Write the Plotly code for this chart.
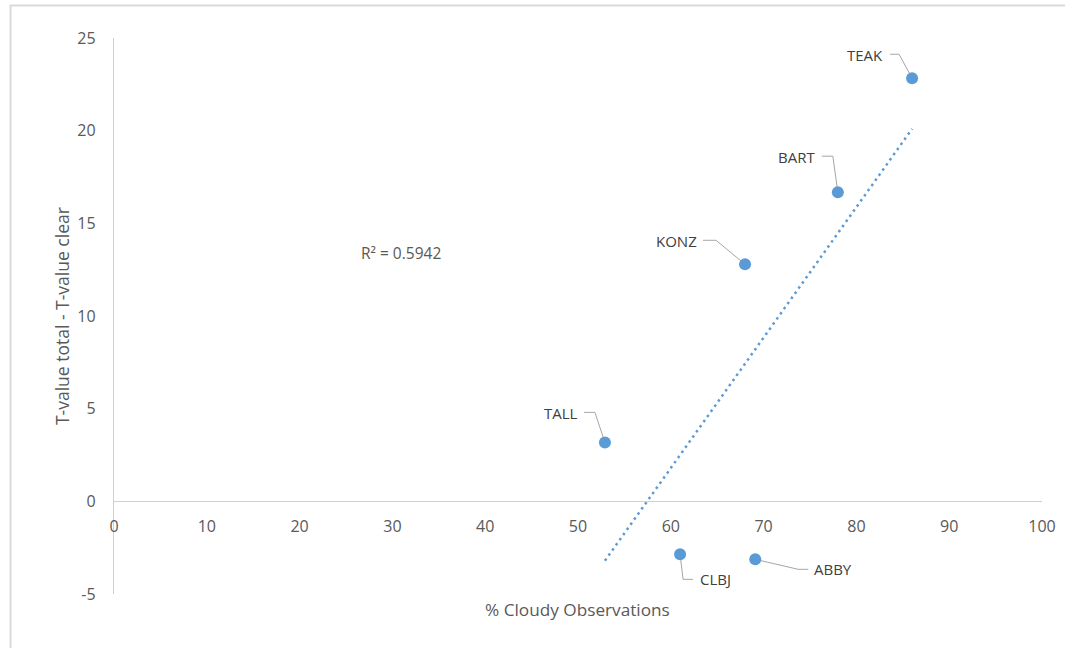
import numpy as np
import plotly.graph_objects as go

# Site data: percentage of cloudy observations vs. difference in T-values
sites = ["TALL", "CLBJ", "ABBY", "KONZ", "BART", "TEAK"]
cloudy_pct = [52.9, 61.0, 69.1, 68.0, 78.0, 86.0]
t_value_diff = [3.18, -2.86, -3.13, 12.79, 16.68, 22.83]

x_ticks = list(range(0, 101, 10))
y_ticks = list(range(-5, 26, 5))
r2_label = "R² = 0.5942"

# Label placement for each site (pixel offsets from the marker, y up):
# elbow of the leader line, end of the leader line, text anchor point, text side
label_layout = {
    "TALL": dict(elbow=(-10, 30), end=(-21, 30), text=(-25, 29), side="right"),
    "CLBJ": dict(elbow=(3, -25), end=(13, -25), text=(18, -25), side="left"),
    "ABBY": dict(elbow=(43, -10), end=(53, -10), text=(57, -10), side="left"),
    "KONZ": dict(elbow=(-29, 24), end=(-42, 24), text=(-46, 23), side="right"),
    "BART": dict(elbow=(-5, 36), end=(-16, 36), text=(-21, 35), side="right"),
    "TEAK": dict(elbow=(-13, 24), end=(-22, 24), text=(-27, 23), side="right"),
}

BLUE = "#5B9BD5"
TEXT = "#595959"
LABEL_TEXT = "#404040"
AXIS = "#D0D0D0"
FONT = "Open Sans"

# Linear trendline across the observed x range
slope, intercept = np.polyfit(cloudy_pct, t_value_diff, 1)
trend_x = [min(cloudy_pct), max(cloudy_pct)]
trend_y = [slope * v + intercept for v in trend_x]

fig = go.Figure()

fig.add_trace(go.Scatter(
    x=trend_x, y=trend_y, mode="lines",
    line=dict(color=BLUE, width=2.5, dash="2.5px,3.8px"),
    hoverinfo="skip", showlegend=False,
))

fig.add_trace(go.Scatter(
    x=cloudy_pct, y=t_value_diff, mode="markers",
    marker=dict(color=BLUE, size=12, line=dict(width=0)),
    text=sites, showlegend=False,
))

shapes = []
annotations = []
for name, xv, yv in zip(sites, cloudy_pct, t_value_diff):
    lay = label_layout[name]
    ex, ey = lay["elbow"]
    lx, ly = lay["end"]
    shapes.append(dict(
        type="path", xref="x", yref="y",
        xsizemode="pixel", ysizemode="pixel",
        xanchor=xv, yanchor=yv,
        path=f"M 0 0 L {ex} {ey} L {lx} {ly}",
        line=dict(color="#A6A6A6", width=1),
        layer="below",
    ))
    tx, ty = lay["text"]
    annotations.append(dict(
        x=xv, y=yv, xref="x", yref="y", text=name, showarrow=False,
        xanchor=lay["side"], yanchor="middle", xshift=tx, yshift=ty,
        font=dict(family=FONT, size=15, color=LABEL_TEXT),
    ))

# Chart frame
shapes.append(dict(
    type="rect", xref="paper", yref="paper",
    x0=-0.1115, x1=1.05, y0=-0.15, y1=1.0585,
    line=dict(color="#D9D9D9", width=2), fillcolor="rgba(0,0,0,0)",
    layer="below",
))

annotations += [
    dict(x=30.9, y=13.4, xref="x", yref="y", text=r2_label, showarrow=False,
         xanchor="center", yanchor="middle",
         font=dict(family=FONT, size=15.5, color=TEXT)),
    dict(x=0.499, y=-0.027, xref="paper", yref="paper",
         text="% Cloudy Observations", showarrow=False,
         xanchor="center", yanchor="middle",
         font=dict(family=FONT, size=17.2, color=TEXT)),
    dict(x=-0.056, y=0.5, xref="paper", yref="paper",
         text="T-value total - T-value clear", showarrow=False, textangle=-90,
         xanchor="center", yanchor="middle",
         font=dict(family=FONT, size=17.5, color=TEXT)),
]

fig.update_layout(
    width=1065, height=648,
    margin=dict(l=114, r=23, t=38, b=54),
    paper_bgcolor="white", plot_bgcolor="white",
    font=dict(family=FONT, color=TEXT),
    xaxis=dict(
        range=[0, 100], tickvals=x_ticks, ticktext=[str(v) for v in x_ticks],
        showgrid=False, zeroline=False, automargin=False,
        showline=True, linecolor=AXIS, linewidth=1.3,
        anchor="free", position=5 / 30,
        ticks="", ticklabelstandoff=10,
        tickfont=dict(family=FONT, size=16, color=TEXT),
    ),
    yaxis=dict(
        range=[-5, 25], tickvals=y_ticks, ticktext=[str(v) for v in y_ticks],
        showgrid=False, zeroline=False, automargin=False,
        showline=True, linecolor=AXIS, linewidth=1.3,
        ticks="", ticklabelstandoff=14,
        tickfont=dict(family=FONT, size=16, color=TEXT),
    ),
    shapes=shapes,
    annotations=annotations,
    hovermode="closest",
)

fig.write_html("out.html")
